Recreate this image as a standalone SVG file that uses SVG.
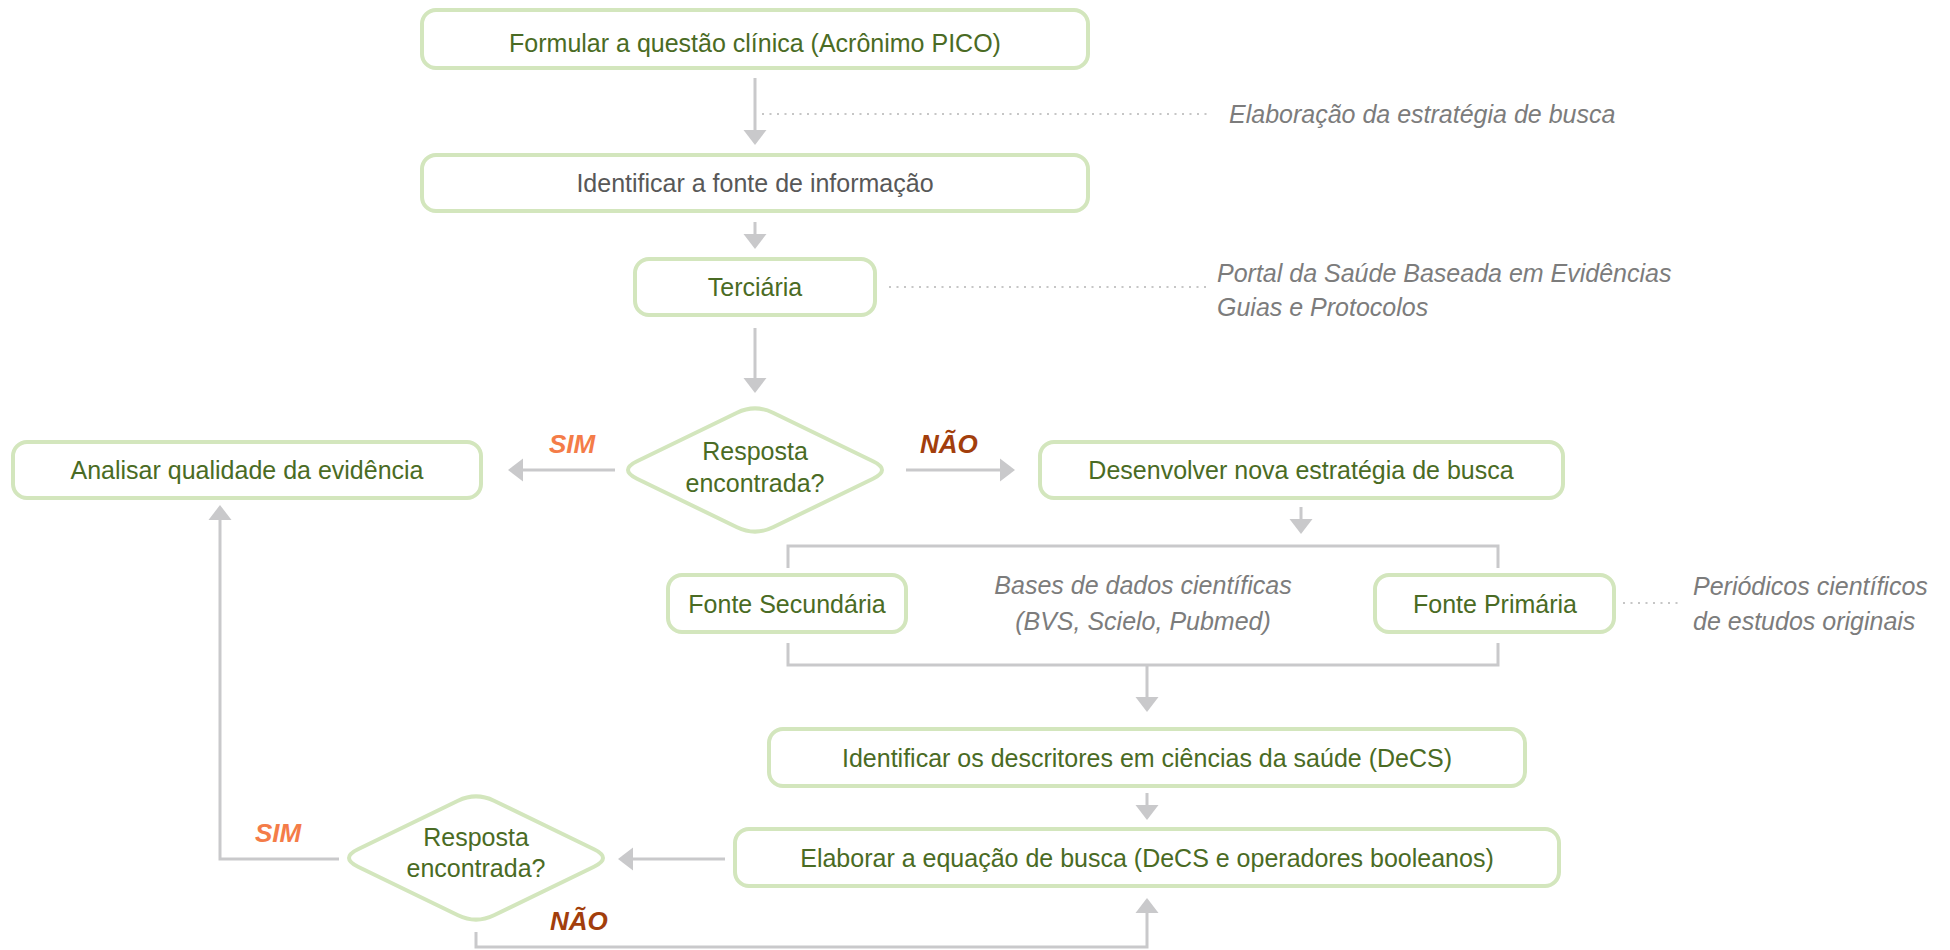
<svg xmlns="http://www.w3.org/2000/svg" width="1950" height="950" viewBox="0 0 1950 950">
<style>
.box{fill:#fff;stroke:#d3e6bd;stroke-width:4}
.t{font-family:"Liberation Sans",Arial,sans-serif;font-size:25px;fill:#4a6b24;text-anchor:middle}
.g{fill:#585858}
.lab{font-family:"Liberation Sans",Arial,sans-serif;font-size:25px;font-style:italic;fill:#7c7c7c}
.c{text-anchor:middle}
.yes{font-family:"Liberation Sans",Arial,sans-serif;font-size:26px;font-weight:bold;font-style:italic;fill:#f47c48}
.no{font-family:"Liberation Sans",Arial,sans-serif;font-size:26px;font-weight:bold;font-style:italic;fill:#a23e0c}
.ln{fill:none;stroke:#c9c9cb;stroke-width:3}
.dot{fill:none;stroke:#c6c6c6;stroke-width:2;stroke-dasharray:2 5.5}
</style>
<defs>
<marker id="arr" markerUnits="userSpaceOnUse" markerWidth="16" markerHeight="24" refX="11" refY="12" orient="auto">
<path d="M0,0.5 L15,12 L0,23.5 Z" fill="#c9c9cb"/>
</marker>
<path id="dia" d="M-18,-57.27 Q0,-66 18,-57.27 L118,-8.73 Q136,0 118,8.73 L18,57.27 Q0,66 -18,57.27 L-118,8.73 Q-136,0 -118,-8.73 Z"/>
</defs>

<g id="connectors">
<path class="ln" d="M755,78 V141" marker-end="url(#arr)"/>
<path class="ln" d="M755,222 V245" marker-end="url(#arr)"/>
<path class="ln" d="M755,328 V389" marker-end="url(#arr)"/>
<path class="ln" d="M615,470 H512" marker-end="url(#arr)"/>
<path class="ln" d="M906,470 H1011" marker-end="url(#arr)"/>
<path class="ln" d="M1301,507 V530" marker-end="url(#arr)"/>
<path class="ln" d="M788,568 V546 H1498 V568"/>
<path class="ln" d="M788,643 V665 H1498 V643"/>
<path class="ln" d="M1147,665 V708" marker-end="url(#arr)"/>
<path class="ln" d="M1147,793 V816" marker-end="url(#arr)"/>
<path class="ln" d="M725,859 H622" marker-end="url(#arr)"/>
<path class="ln" d="M339,859 H220 V509" marker-end="url(#arr)"/>
<path class="ln" d="M476,932 V947 H1147 V902" marker-end="url(#arr)"/>
<path class="dot" d="M762,114 H1210"/>
<path class="dot" d="M889,287 H1206"/>
<path class="dot" d="M1623,603 H1682"/>
</g>

<g id="n1"><rect class="box" x="422" y="10" width="666" height="58" rx="14"/><text class="t" x="755" y="52">Formular a questão clínica (Acrônimo PICO)</text></g>
<g id="lab1"><text class="lab" x="1229" y="123">Elaboração da estratégia de busca</text></g>
<g id="n2"><rect class="box" x="422" y="155" width="666" height="56" rx="14"/><text class="t g" x="755" y="192">Identificar a fonte de informação</text></g>
<g id="n3"><rect class="box" x="635" y="259" width="240" height="56" rx="14"/><text class="t" x="755" y="296">Terciária</text></g>
<g id="lab2"><text class="lab" x="1217" y="282">Portal da Saúde Baseada em Evidências</text><text class="lab" x="1217" y="316">Guias e Protocolos</text></g>
<g id="d1"><use href="#dia" x="755" y="470" class="box"/><text class="t" x="755" y="460">Resposta</text><text class="t" x="755" y="492">encontrada?</text></g>
<g id="sim1"><text class="yes" x="549" y="453">SIM</text></g>
<g id="nao1"><text class="no" x="920" y="453">NÃO</text></g>
<g id="n4"><rect class="box" x="13" y="442" width="468" height="56" rx="14"/><text class="t" x="247" y="479">Analisar qualidade da evidência</text></g>
<g id="n5"><rect class="box" x="1040" y="442" width="523" height="56" rx="14"/><text class="t" x="1301" y="479">Desenvolver nova estratégia de busca</text></g>
<g id="n6"><rect class="box" x="668" y="575" width="238" height="57" rx="14"/><text class="t" x="787" y="613">Fonte Secundária</text></g>
<g id="lab3"><text class="lab c" x="1143" y="594">Bases de dados científicas</text><text class="lab c" x="1143" y="630">(BVS, Scielo, Pubmed)</text></g>
<g id="n7"><rect class="box" x="1375" y="575" width="239" height="57" rx="14"/><text class="t" x="1495" y="613">Fonte Primária</text></g>
<g id="lab4"><text class="lab" x="1693" y="595">Periódicos científicos</text><text class="lab" x="1693" y="630">de estudos originais</text></g>
<g id="n8"><rect class="box" x="769" y="729" width="756" height="57" rx="14"/><text class="t" x="1147" y="767">Identificar os descritores em ciências da saúde (DeCS)</text></g>
<g id="n9"><rect class="box" x="735" y="829" width="824" height="57" rx="14"/><text class="t" x="1147" y="867">Elaborar a equação de busca (DeCS e operadores booleanos)</text></g>
<g id="d2"><use href="#dia" x="476" y="858" class="box"/><text class="t" x="476" y="846">Resposta</text><text class="t" x="476" y="877">encontrada?</text></g>
<g id="sim2"><text class="yes" x="255" y="842">SIM</text></g>
<g id="nao2"><text class="no" x="550" y="930">NÃO</text></g>
</svg>
